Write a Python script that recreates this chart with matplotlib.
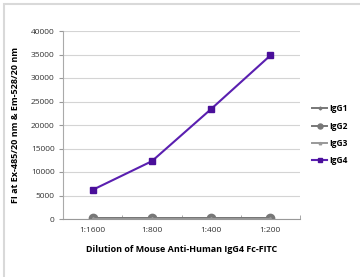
import matplotlib.pyplot as plt
from matplotlib.patches import Rectangle

plt.rcParams['font.family'] = ['Open Sans', 'DejaVu Sans']

# Data
dilutions = ['1:1600', '1:800', '1:400', '1:200']
igg1 = [150, 150, 150, 150]
igg2 = [120, 120, 120, 120]
igg3 = [100, 100, 100, 100]
igg4 = [6200, 12300, 23400, 34800]

fig = plt.figure(figsize=(3.6, 2.77), dpi=100)
ax = fig.add_axes([63 / 360, 1 - 219 / 277, 237 / 360, 188 / 277])

# light gray frame around the whole picture (right/bottom edges run off the image)
fig.patches.append(Rectangle((4 / 360, -0.5), 2.0, 0.5 + (277 - 4) / 277,
                             transform=fig.transFigure, fill=False,
                             edgecolor='#d9d9d9', linewidth=1.5))

x = range(len(dilutions))
ax.plot(x, igg1, color='#777777', marker='D', markersize=2.5, linewidth=1.4, label='IgG1')
ax.plot(x, igg2, color='#777777', marker='o', markersize=6, linewidth=1.4, label='IgG2')
ax.plot(x, igg3, color='#999999', marker='^', markersize=3, linewidth=1.4, label='IgG3')
ax.plot(x, igg4, color='#5a1fb0', marker='s', markersize=5,
        markerfacecolor='#4a0f9a', markeredgecolor='#4a0f9a', linewidth=1.5, label='IgG4')

ax.set_xlim(-0.5, 3.5)
ax.set_ylim(0, 40000)
ax.set_yticks(range(0, 40001, 5000))
ax.set_xticks(list(x))
ax.set_xticklabels(dilutions)
ax.set_xticks([-0.5, 0.5, 1.5, 2.5, 3.5], minor=True)
ax.tick_params(axis='x', which='major', length=0, labelsize=6, pad=6, colors='#333333')
ax.tick_params(axis='x', which='minor', length=3, color='#999999', direction='in')
ax.tick_params(axis='y', length=3, labelsize=6, color='#999999', colors='#333333', pad=3)

ax.grid(axis='y', color='#d4d4d4', linewidth=0.8)
ax.set_axisbelow(True)
for side in ['top', 'right']:
    ax.spines[side].set_visible(False)
ax.spines['left'].set_color('#aaaaaa')
ax.spines['bottom'].set_color('#999999')

ax.set_xlabel('Dilution of Mouse Anti-Human IgG4 Fc-FITC', fontsize=6.5,
              fontweight='bold', labelpad=8)
ax.set_ylabel('FI at Ex-485/20 nm & Em-528/20 nm', fontsize=6.5,
              fontweight='bold', labelpad=8)

ax.legend(loc='upper left', bbox_to_anchor=(1.02, 0.65), frameon=False,
          handlelength=1.8, handletextpad=0.2, labelspacing=1.0, markerscale=0.6,
          prop={'weight': 'bold', 'size': 6})

fig.savefig('out.png', dpi=100)
